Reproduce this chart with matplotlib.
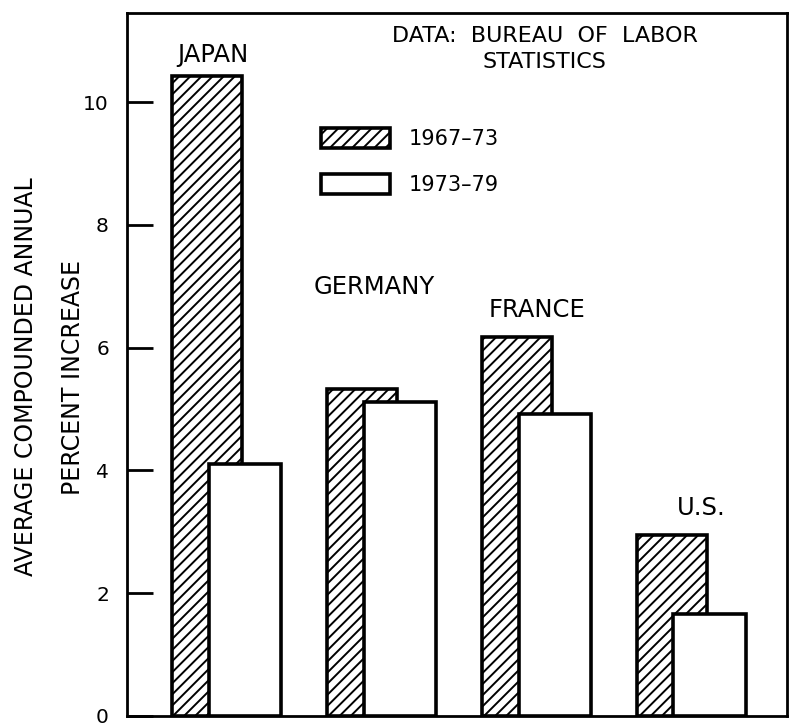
# -*- coding: utf-8 -*-
# productivity growth: 1967-73 vs 1973-79
import numpy as np
import matplotlib.pyplot as plt

plt.rcParams['font.family'] = ['DejaVu Sans']
plt.rcParams['hatch.linewidth'] = 1.4

countries = ["JAPAN", "GERMANY", "FRANCE", "U.S."]
growth_6773 = [10.43, 5.33, 6.17, 2.94]
growth_7379 = [4.1, 5.12, 4.92, 1.66]
years = ["1967\u201373", "1973\u201379"]

fig = plt.figure(figsize=(7.89, 7.26), dpi=100)
ax = fig.add_axes([0.161, 0.014, 0.836, 0.968])

x = np.arange(len(countries))
w1 = 0.45
w2 = 0.47
off = 0.245

b1 = ax.bar(x, growth_6773, width=w1, color="white", edgecolor="black",
            hatch="///", linewidth=2.6, zorder=2, label=years[0])
b2 = ax.bar(x + off, growth_7379, width=w2, color="white", edgecolor="black",
            linewidth=2.6, zorder=3, label=years[1])

# country labels above each pair
lab_dx = [0.04, 0.08, 0.13, 0.19]
lab_dy = [0.33, 1.65, 0.45, 0.45]
for i, name in enumerate(countries):
    ax.text(x[i] + lab_dx[i], growth_6773[i] + lab_dy[i], name,
            ha="center", va="center", fontsize=17.5)

ax.text(0.633, 0.949, "DATA:  BUREAU  OF  LABOR\nSTATISTICS", transform=ax.transAxes,
        ha="center", va="center", fontsize=16, linespacing=1.35)

ax.set_xlim(-0.516, 3.74)
ax.set_ylim(0, 11.45)
ax.set_yticks([0, 2, 4, 6, 8, 10])
ax.set_xticks([])
ax.tick_params(axis="y", direction="in", length=19, width=2, labelsize=14.5, pad=13)

for s in ax.spines.values():
    s.set_linewidth(2)

ax.set_ylabel("AVERAGE COMPOUNDED ANNUAL\nPERCENT INCREASE", fontsize=17,
              linespacing=2.2)
ax.yaxis.set_label_coords(-0.064, 0.482)

ax.legend(handles=[b1, b2], loc="upper left", bbox_to_anchor=(0.294, 0.836),
          frameon=False, borderpad=0, borderaxespad=0, fontsize=15,
          handlelength=3.3, handleheight=1.1, labelspacing=1.2, handletextpad=0.9)

fig.savefig("out.png", dpi=100)
